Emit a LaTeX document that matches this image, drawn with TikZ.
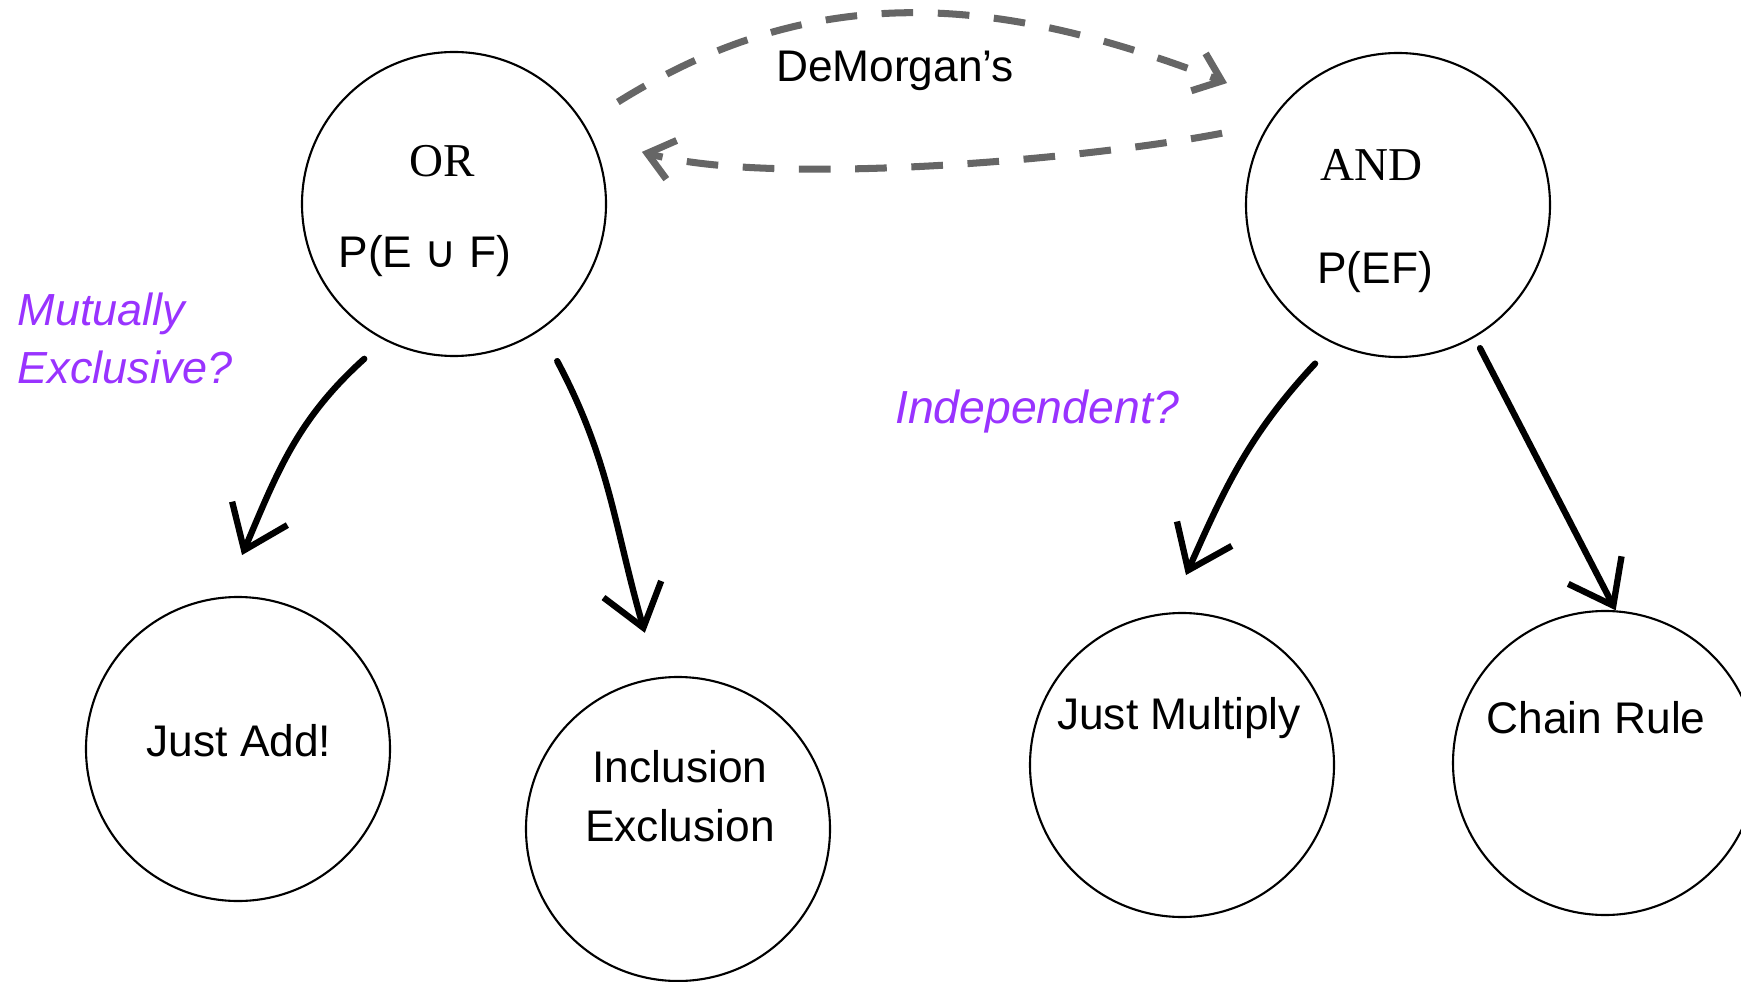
\documentclass[tikz,border=0pt]{standalone}
\usepackage{fontspec}
\setmainfont{Liberation Sans}
\newfontfamily\orandfont{Liberation Serif}
\newfontfamily\cupfont{DejaVu Sans}
\usepackage{tikz}
\usetikzlibrary{arrows.meta,calc}
\definecolor{askpurple}{RGB}{153,51,255}
\definecolor{dmgray}{RGB}{102,102,102}

\begin{document}
\begin{tikzpicture}[x=1cm,y=1cm,
  font=\fontsize{12.6}{16.8}\selectfont,
  circ/.style={draw,circle,line width=0.6pt,minimum size=3.04cm,inner sep=0pt},
  txt/.style={align=center,inner sep=0pt},
  serifx/.style={font=\orandfont\fontsize{13.4}{16}\selectfont},
  ask/.style={font=\fontsize{13.2}{16.5}\selectfont\itshape,text=askpurple,align=left,inner sep=0pt},
  hand/.style={line width=1.8pt,line cap=round,line join=round,-{Straight Barb[length=4mm,width=6mm]}},
  swap/.style={draw=dmgray,line width=2pt,dash pattern=on 9pt off 7pt,-{Straight Barb[length=2.5mm,width=4mm]}}]
\useasboundingbox (0,0) rectangle (17.41,-9.82);
% ---------- OR / AND ----------
\node[circ] (or) at (4.54,-2.04) {};
\node[circ] (and) at (13.98,-2.05) {};
\node[txt,serifx] (ortop) at (4.42,-1.61) {OR};
\node[txt] (orp) at (4.25,-2.56) {P(E {\cupfont ∪} F)};
\node[txt,serifx] (andtop) at (13.71,-1.65) {AND};
\node[txt] (andp) at (13.75,-2.72) {P(EF)};
\node[txt] (demorgan) at (8.95,-0.71) {DeMorgan’s};
\draw[swap] ($(or)+(31.9:1.93)$) to[out=32,in=159] ($(and)+(144.5:2.10)$);
\draw[swap] ($(and)+(157.8:1.90)$) to[out=191,in=-15,looseness=0.6] ($(or)+(15.5:1.95)$);
% ---------- results ----------
\node[circ] (add) at (2.38,-7.49) {};
\node[circ] (inc) at (6.78,-8.29) {};
\node[circ] (mult) at (11.82,-7.65) {};
\node[circ] (chain) at (16.05,-7.63) {};
\node[txt] (addt) at (2.39,-7.41) {Just Add!};
\node[txt] (inct) at (6.80,-7.96) {Inclusion\\Exclusion};
\node[txt] (multt) at (11.79,-7.18) {Just Multiply};
\node[txt] (chaint) at (15.96,-7.18) {Chain Rule};
% ---------- questions ----------
\node[ask,font=\fontsize{12.8}{16.5}\selectfont\itshape,anchor=west] (mutex) at (0.17,-3.38) {Mutually\\Exclusive?};
\node[ask] (indep) at (10.37,-4.12) {Independent?};
\draw[hand] ($(or)+(239.9:1.79)$) to[out=222,in=67] ($(add)+(88.8:1.94)$);
\draw[hand] ($(or)+(303.3:1.88)$) to[out=-62,in=106] ($(inc)+(99.6:1.99)$);
\draw[hand] ($(and)+(242.4:1.79)$) to[out=227,in=66] ($(mult)+(88.8:1.90)$);
\draw[hand] ($(and)+(299.8:1.65)$) -- (chain.86);
\end{tikzpicture}
\end{document}
